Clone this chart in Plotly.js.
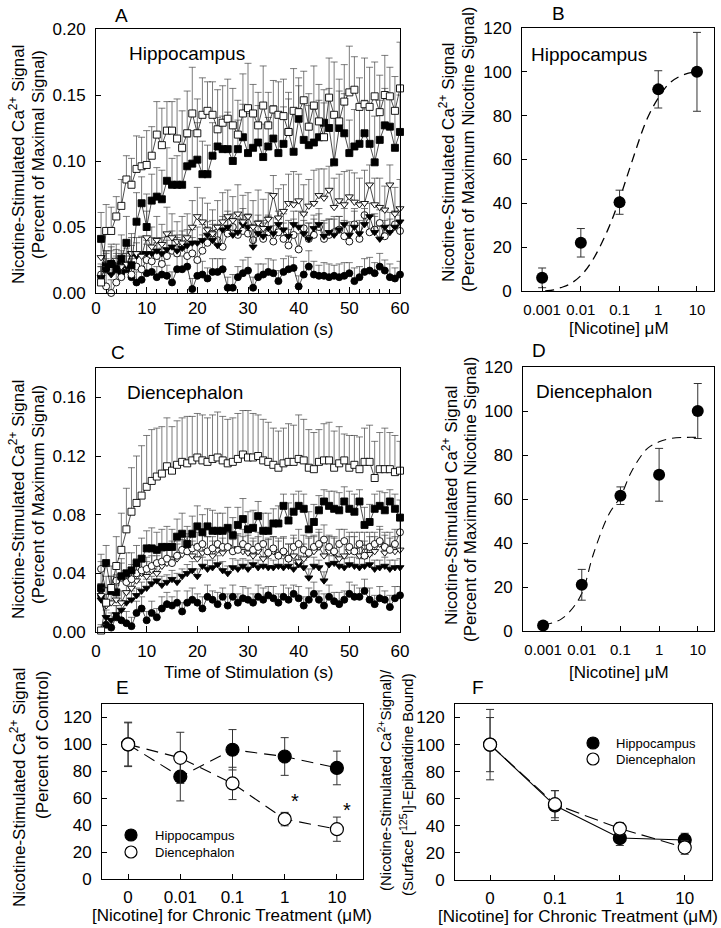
<!DOCTYPE html>
<html>
<head>
<meta charset="utf-8">
<script src="https://cdn.plot.ly/plotly-3.0.1.min.js"></script>
<style>
  html, body { margin: 0; padding: 0; background: #fff; }
  #chart { width: 721px; height: 928px; }
</style>
</head>
<body>
<div id="chart"></div>
<script>
// ---- time axis for panels A and C (s)
const time = [1,2,3,4,5,6,7,8,9,10,11,12,13,14,15,16,17,18,19,20,
  21,22,23,24,25,26,27,28,29,30,31,32,33,34,35,36,37,38,39,40,
  41,42,43,44,45,46,47,48,49,50,51,52,53,54,55,56,57,58,59,60];

// ---- panel A, hippocampus (fraction of maximal signal), upper SEM
const aSqOpen = [0.008,0.047,0.047,0.058,0.066,0.086,0.082,0.094,0.096,0.097,
  0.104,0.120,0.112,0.123,0.123,0.117,0.110,0.121,0.136,0.121,
  0.135,0.138,0.135,0.124,0.129,0.132,0.127,0.120,0.136,0.140,
  0.136,0.127,0.142,0.127,0.139,0.135,0.134,0.122,0.138,0.137,
  0.146,0.126,0.142,0.130,0.118,0.148,0.135,0.130,0.145,0.152,
  0.154,0.141,0.143,0.141,0.149,0.137,0.150,0.149,0.138,0.155];
const aSqOpenErr = [0.012,0.020,0.018,0.015,0.020,0.018,0.020,0.025,0.022,0.026,
  0.022,0.025,0.028,0.022,0.022,0.030,0.028,0.032,0.035,0.026,
  0.028,0.022,0.025,0.030,0.028,0.030,0.028,0.026,0.030,0.034,
  0.022,0.025,0.030,0.025,0.022,0.025,0.028,0.030,0.032,0.026,
  0.022,0.025,0.030,0.028,0.026,0.030,0.040,0.032,0.028,0.035,
  0.025,0.022,0.035,0.030,0.026,0.028,0.030,0.022,0.026,0.035];
const aSqFilled = [0.041,0.020,0.022,0.018,0.026,0.038,0.021,0.054,0.068,0.050,
  0.070,0.073,0.071,0.085,0.082,0.082,0.082,0.096,0.098,0.101,
  0.090,0.090,0.104,0.111,0.109,0.109,0.100,0.109,0.118,0.106,
  0.110,0.114,0.103,0.111,0.117,0.106,0.113,0.122,0.107,0.132,
  0.116,0.112,0.114,0.118,0.129,0.125,0.099,0.125,0.121,0.106,
  0.111,0.113,0.121,0.113,0.099,0.116,0.127,0.126,0.110,0.122];
const aSqFilledErr = [0.020,0.012,0.015,0.015,0.018,0.020,0.015,0.022,0.020,0.025,
  0.020,0.022,0.022,0.025,0.020,0.022,0.025,0.022,0.025,0.028,
  0.025,0.022,0.025,0.022,0.025,0.028,0.025,0.022,0.025,0.030,
  0.025,0.028,0.025,0.022,0.025,0.030,0.028,0.025,0.030,0.025,
  0.028,0.030,0.025,0.028,0.025,0.030,0.035,0.028,0.030,0.025,
  0.028,0.030,0.025,0.028,0.035,0.030,0.028,0.025,0.030,0.028];
const aTriOpen = [0.027,0.022,0.023,0.025,0.020,0.022,0.030,0.030,0.028,0.042,
  0.035,0.040,0.037,0.045,0.042,0.039,0.038,0.042,0.050,0.058,
  0.054,0.048,0.045,0.050,0.054,0.058,0.055,0.060,0.054,0.058,
  0.050,0.053,0.049,0.056,0.074,0.057,0.062,0.068,0.067,0.070,
  0.060,0.066,0.068,0.074,0.072,0.078,0.065,0.070,0.067,0.073,
  0.069,0.067,0.068,0.082,0.067,0.065,0.063,0.082,0.060,0.064];
const aTriOpenErr = [0.012,0.010,0.012,0.012,0.010,0.012,0.015,0.012,0.015,0.020,
  0.015,0.018,0.015,0.020,0.018,0.015,0.020,0.018,0.020,0.022,
  0.018,0.020,0.018,0.020,0.022,0.020,0.018,0.022,0.020,0.018,
  0.020,0.025,0.022,0.020,0.015,0.022,0.020,0.022,0.025,0.020,
  0.022,0.020,0.025,0.020,0.022,0.018,0.022,0.020,0.025,0.020,
  0.022,0.020,0.025,0.015,0.020,0.022,0.018,0.015,0.020,0.022];
const aTriFilled = [0.012,0.020,0.014,0.020,0.022,0.020,0.030,0.028,0.030,0.030,
  0.030,0.032,0.030,0.033,0.035,0.032,0.034,0.036,0.038,0.038,
  0.040,0.044,0.040,0.036,0.048,0.050,0.044,0.046,0.052,0.050,
  0.035,0.045,0.043,0.049,0.045,0.052,0.048,0.043,0.052,0.050,
  0.045,0.041,0.049,0.052,0.043,0.046,0.044,0.048,0.052,0.044,
  0.050,0.045,0.052,0.058,0.046,0.041,0.050,0.046,0.050,0.054];
const aTriFilledErr = [0.008,0.010,0.008,0.010,0.010,0.010,0.012,0.010,0.012,0.010,
  0.012,0.010,0.012,0.010,0.012,0.012,0.010,0.012,0.010,0.012,
  0.012,0.010,0.012,0.012,0.010,0.012,0.012,0.010,0.012,0.010,
  0.012,0.010,0.012,0.010,0.012,0.010,0.012,0.012,0.010,0.012,
  0.010,0.012,0.010,0.012,0.012,0.010,0.012,0.010,0.012,0.010,
  0.012,0.010,0.012,0.010,0.012,0.010,0.012,0.010,0.012,0.010];
const aCircOpen = [0.014,0.005,0.000,0.008,0.012,0.020,0.014,0.020,0.018,0.025,
  0.024,0.028,0.022,0.028,0.032,0.030,0.035,0.028,0.030,0.025,
  0.032,0.038,0.045,0.040,0.035,0.045,0.050,0.044,0.047,0.045,
  0.040,0.049,0.041,0.046,0.039,0.046,0.041,0.036,0.044,0.033,
  0.049,0.041,0.044,0.050,0.041,0.044,0.046,0.048,0.043,0.039,
  0.052,0.041,0.059,0.046,0.048,0.053,0.043,0.049,0.052,0.047];
const aCircOpenErr = [0.008,0.010,0.010,0.010,0.012,0.010,0.012,0.010,0.012,0.012,
  0.012,0.010,0.012,0.012,0.010,0.012,0.012,0.010,0.012,0.012,
  0.012,0.012,0.010,0.012,0.012,0.012,0.010,0.012,0.012,0.012,
  0.012,0.010,0.012,0.012,0.012,0.010,0.012,0.012,0.012,0.012,
  0.010,0.012,0.012,0.010,0.012,0.012,0.012,0.010,0.012,0.012,
  0.012,0.012,0.010,0.012,0.012,0.010,0.012,0.012,0.010,0.012];
const aCircFilled = [0.012,0.018,0.022,0.020,0.015,0.018,0.012,0.008,0.010,0.015,
  0.016,0.012,0.014,0.013,0.008,0.018,0.018,0.020,0.003,0.013,
  0.014,0.011,0.016,0.016,0.018,0.004,0.004,0.012,0.015,0.017,
  0.004,0.012,0.014,0.016,0.015,0.009,0.016,0.018,0.019,0.005,
  0.014,0.020,0.014,0.013,0.013,0.012,0.013,0.012,0.013,0.015,
  0.009,0.012,0.016,0.017,0.015,0.020,0.017,0.012,0.011,0.014];
const aCircFilledErr = [0.008,0.008,0.010,0.008,0.008,0.010,0.008,0.008,0.010,0.008,
  0.010,0.008,0.010,0.008,0.008,0.010,0.010,0.008,0.008,0.010,
  0.010,0.008,0.010,0.010,0.008,0.008,0.010,0.008,0.010,0.010,
  0.008,0.010,0.008,0.010,0.010,0.008,0.010,0.010,0.008,0.008,
  0.010,0.012,0.010,0.008,0.010,0.010,0.008,0.010,0.010,0.008,
  0.010,0.008,0.010,0.010,0.008,0.010,0.008,0.010,0.008,0.010];

// ---- panel C, diencephalon (fraction of maximum signal), upper SEM
const cSqOpen = [0.001,0.020,0.030,0.045,0.056,0.070,0.082,0.088,0.093,0.099,
  0.103,0.106,0.108,0.113,0.110,0.114,0.116,0.115,0.117,0.119,
  0.117,0.116,0.118,0.119,0.117,0.115,0.116,0.118,0.121,0.119,
  0.119,0.120,0.117,0.116,0.114,0.112,0.115,0.116,0.116,0.118,
  0.117,0.112,0.111,0.116,0.117,0.117,0.112,0.115,0.117,0.112,
  0.114,0.111,0.116,0.116,0.105,0.111,0.111,0.111,0.109,0.110];
const cSqOpenErr = [0.004,0.010,0.015,0.020,0.025,0.028,0.030,0.032,0.034,0.035,
  0.035,0.033,0.032,0.033,0.030,0.030,0.030,0.032,0.030,0.030,
  0.031,0.030,0.030,0.031,0.030,0.030,0.030,0.031,0.030,0.032,
  0.030,0.028,0.028,0.027,0.025,0.025,0.024,0.026,0.025,0.030,
  0.028,0.026,0.025,0.022,0.025,0.026,0.025,0.025,0.018,0.022,
  0.020,0.022,0.023,0.025,0.025,0.025,0.028,0.025,0.025,0.020];
const cSqFilled = [0.030,0.047,0.028,0.027,0.038,0.040,0.042,0.047,0.050,0.057,
  0.057,0.056,0.058,0.058,0.058,0.065,0.067,0.060,0.067,0.072,
  0.068,0.072,0.069,0.069,0.069,0.071,0.066,0.073,0.077,0.070,
  0.071,0.079,0.069,0.069,0.074,0.074,0.086,0.076,0.082,0.086,
  0.084,0.070,0.075,0.083,0.089,0.086,0.084,0.083,0.089,0.084,
  0.082,0.089,0.073,0.075,0.084,0.086,0.083,0.089,0.084,0.078];
const cSqFilledErr = [0.018,0.012,0.010,0.012,0.012,0.014,0.012,0.012,0.014,0.012,
  0.014,0.012,0.012,0.014,0.012,0.012,0.014,0.012,0.012,0.014,
  0.012,0.012,0.014,0.012,0.012,0.014,0.012,0.012,0.014,0.012,
  0.012,0.010,0.012,0.012,0.010,0.012,0.008,0.012,0.012,0.010,
  0.010,0.012,0.012,0.010,0.008,0.010,0.012,0.012,0.010,0.012,
  0.012,0.008,0.012,0.012,0.010,0.010,0.012,0.008,0.010,0.012];
const cCircOpen = [0.043,0.028,0.030,0.035,0.037,0.034,0.036,0.040,0.042,0.043,
  0.045,0.047,0.048,0.050,0.047,0.052,0.056,0.055,0.057,0.058,
  0.060,0.055,0.057,0.060,0.058,0.058,0.055,0.056,0.060,0.058,
  0.056,0.058,0.060,0.054,0.057,0.052,0.055,0.050,0.058,0.060,
  0.056,0.054,0.058,0.060,0.063,0.058,0.055,0.060,0.062,0.058,
  0.055,0.060,0.052,0.058,0.060,0.062,0.058,0.056,0.060,0.068];
const cCircOpenErr = [0.010,0.010,0.008,0.010,0.010,0.008,0.010,0.010,0.010,0.008,
  0.010,0.010,0.010,0.008,0.010,0.010,0.010,0.010,0.008,0.010,
  0.010,0.010,0.008,0.010,0.010,0.010,0.008,0.010,0.010,0.010,
  0.008,0.010,0.010,0.010,0.008,0.010,0.010,0.010,0.008,0.010,
  0.010,0.010,0.008,0.010,0.010,0.008,0.010,0.010,0.008,0.010,
  0.010,0.008,0.010,0.010,0.008,0.010,0.010,0.008,0.010,0.010];
const cTriOpen = [0.025,0.018,0.020,0.022,0.020,0.027,0.030,0.035,0.040,0.038,
  0.042,0.040,0.045,0.047,0.050,0.050,0.053,0.055,0.052,0.050,
  0.054,0.055,0.052,0.056,0.054,0.058,0.055,0.057,0.055,0.054,
  0.052,0.055,0.050,0.053,0.055,0.052,0.054,0.050,0.052,0.048,
  0.050,0.053,0.055,0.058,0.052,0.055,0.054,0.050,0.052,0.055,
  0.056,0.052,0.058,0.053,0.055,0.060,0.054,0.058,0.055,0.056];
const cTriOpenErr = [0.008,0.008,0.008,0.010,0.008,0.010,0.010,0.010,0.012,0.010,
  0.010,0.012,0.010,0.010,0.012,0.010,0.010,0.012,0.010,0.010,
  0.012,0.010,0.010,0.012,0.010,0.010,0.012,0.010,0.010,0.012,
  0.010,0.010,0.012,0.010,0.010,0.012,0.010,0.010,0.012,0.010,
  0.010,0.012,0.010,0.010,0.012,0.010,0.010,0.012,0.010,0.010,
  0.012,0.010,0.010,0.012,0.010,0.010,0.012,0.010,0.010,0.012];
const cTriFilled = [0.022,0.010,0.008,0.012,0.015,0.020,0.022,0.025,0.028,0.030,
  0.033,0.035,0.032,0.034,0.036,0.034,0.038,0.040,0.042,0.038,
  0.045,0.043,0.044,0.046,0.042,0.040,0.044,0.043,0.045,0.043,
  0.046,0.044,0.045,0.044,0.044,0.045,0.044,0.045,0.043,0.046,
  0.044,0.037,0.045,0.044,0.035,0.046,0.047,0.045,0.044,0.046,
  0.045,0.044,0.045,0.046,0.043,0.044,0.045,0.043,0.044,0.044];
const cTriFilledErr = [0.006,0.005,0.005,0.006,0.005,0.006,0.006,0.005,0.006,0.006,
  0.005,0.006,0.006,0.005,0.006,0.006,0.005,0.006,0.006,0.005,
  0.006,0.006,0.005,0.006,0.006,0.005,0.006,0.006,0.005,0.006,
  0.006,0.005,0.006,0.006,0.005,0.006,0.006,0.005,0.006,0.006,
  0.005,0.006,0.006,0.005,0.006,0.006,0.005,0.006,0.006,0.005,
  0.006,0.006,0.005,0.006,0.006,0.005,0.006,0.006,0.005,0.006];
const cCircFilled = [0.025,0.005,0.003,0.010,0.008,0.006,0.004,0.013,0.016,0.008,
  0.013,0.010,0.016,0.019,0.018,0.020,0.014,0.020,0.022,0.020,
  0.016,0.024,0.022,0.019,0.024,0.018,0.024,0.020,0.023,0.022,
  0.020,0.024,0.022,0.025,0.023,0.020,0.024,0.022,0.026,0.023,
  0.018,0.022,0.026,0.022,0.018,0.024,0.021,0.019,0.022,0.026,
  0.024,0.024,0.028,0.022,0.019,0.023,0.022,0.017,0.023,0.025];
const cCircFilledErr = [0.008,0.006,0.006,0.008,0.006,0.008,0.006,0.008,0.008,0.006,
  0.008,0.006,0.008,0.008,0.006,0.008,0.006,0.008,0.008,0.006,
  0.008,0.008,0.006,0.008,0.006,0.008,0.008,0.006,0.008,0.008,
  0.006,0.008,0.008,0.006,0.008,0.006,0.008,0.008,0.006,0.008,
  0.006,0.008,0.008,0.006,0.008,0.008,0.006,0.008,0.006,0.008,
  0.008,0.006,0.008,0.008,0.006,0.008,0.006,0.008,0.008,0.006];

// ---- panels B and D, concentration-response (% of maximum nicotine signal)
const conc = [0.001, 0.01, 0.1, 1, 10];
const concLabels = ['0.001', '0.01', '0.1', '1', '10'];
const bMean = [6, 22, 40.5, 92, 100];
const bErr = [4.5, 6.5, 5.5, 8.5, 18];
const bFitX = [0.0012, 0.002, 0.003, 0.005, 0.01, 0.02, 0.05, 0.1, 0.2, 0.5, 1, 2, 5, 10];
const bFitY = [0, 0.5, 1.5, 3, 7, 14, 28, 42, 58, 78, 88, 95, 99, 100];
const dMean = [2.5, 21, 61.5, 71, 100];
const dErr = [0.5, 7, 4, 12, 12.5];
const dFitX = [0.001, 0.002, 0.003, 0.005, 0.01, 0.02, 0.05, 0.1, 0.2, 0.5, 1, 2, 5, 10];
const dFitY = [2.5, 4, 5.5, 9, 17, 35, 53, 61, 73, 83, 86, 87.5, 88, 88];

// ---- panel E, chronic treatment (% of control)
const eConc = ['0', '0.01', '0.1', '1', '10'];
const eHippo = [100, 76, 96, 91, 82.5];
const eHippoErr = [16, 18, 15, 14, 12.5];
const eDien = [100, 90, 71, 44.5, 37];
const eDienErr = [16.5, 19, 12, 5, 9];

// ---- panel F, signal normalised to surface epibatidine binding
const fConc = ['0', '0.1', '1', '10'];
const fHippo = [100, 55, 31, 29.5];
const fHippoErr = [26, 11, 5.5, 5];
const fDien = [100, 56, 38, 24];
const fDienErr = [20, 10, 4.5, 5];

const FONT = 'Liberation Sans, Arial, sans-serif';
const W = 721, H = 928;
const xd = (a, b) => [a / W, b / W];
const yd = (top, bottom) => [1 - bottom / H, 1 - top / H];

function axis(extra) {
  return Object.assign({
    showline: true, mirror: true, linecolor: 'black', linewidth: 1,
    ticks: 'inside', ticklen: 5, tickcolor: 'black', tickwidth: 1, tickangle: 0,
    showgrid: false, zeroline: false, fixedrange: true,
    tickfont: { family: FONT, size: 17, color: 'black' }
  }, extra);
}

function series(y, err, symbol, open, xa, ya) {
  return {
    x: time, y: y, xaxis: xa, yaxis: ya,
    mode: 'lines+markers',
    line: { color: 'black', width: 0.7 },
    marker: { symbol: symbol, size: 7, color: open ? 'white' : 'black', line: { color: 'black', width: 0.9 } },
    error_y: { type: 'data', symmetric: false, array: err, arrayminus: err.map(() => 0),
      color: '#444', thickness: 0.7, width: 3.5 },
    cliponaxis: false, showlegend: false, hoverinfo: 'skip'
  };
}

function doseMarks(x, y, err, xa, ya) {
  return {
    x: x, y: y, xaxis: xa, yaxis: ya, mode: 'markers',
    marker: { symbol: 'circle', size: 12, color: 'black' },
    error_y: { type: 'data', array: err, color: '#333', thickness: 1, width: 4 },
    cliponaxis: false, showlegend: false, hoverinfo: 'skip'
  };
}

function groupTrace(x, y, err, open, dash, xa, ya) {
  return {
    x: x, y: y, xaxis: xa, yaxis: ya, mode: 'lines+markers',
    line: { color: 'black', width: 1.1, dash: dash },
    marker: { symbol: 'circle', size: 13, color: open ? 'white' : 'black', line: { color: 'black', width: 1.2 } },
    error_y: { type: 'data', array: err, color: '#333', thickness: 1, width: 4 },
    cliponaxis: false, showlegend: false, hoverinfo: 'skip'
  };
}

const data = [
  series(aCircFilled, aCircFilledErr, 'circle', false, 'x', 'y'),
  series(aCircOpen, aCircOpenErr, 'circle', true, 'x', 'y'),
  series(aTriFilled, aTriFilledErr, 'triangle-down', false, 'x', 'y'),
  series(aTriOpen, aTriOpenErr, 'triangle-down', true, 'x', 'y'),
  series(aSqFilled, aSqFilledErr, 'square', false, 'x', 'y'),
  series(aSqOpen, aSqOpenErr, 'square', true, 'x', 'y'),

  { x: bFitX, y: bFitY, xaxis: 'x2', yaxis: 'y2', mode: 'lines', line: { color: 'black', width: 1.3, dash: '9px,6px', shape: 'spline' }, showlegend: false, hoverinfo: 'skip' },
  doseMarks(conc, bMean, bErr, 'x2', 'y2'),

  series(cCircFilled, cCircFilledErr, 'circle', false, 'x3', 'y3'),
  series(cTriFilled, cTriFilledErr, 'triangle-down', false, 'x3', 'y3'),
  series(cTriOpen, cTriOpenErr, 'triangle-down', true, 'x3', 'y3'),
  series(cCircOpen, cCircOpenErr, 'circle', true, 'x3', 'y3'),
  series(cSqFilled, cSqFilledErr, 'square', false, 'x3', 'y3'),
  series(cSqOpen, cSqOpenErr, 'square', true, 'x3', 'y3'),

  { x: dFitX, y: dFitY, xaxis: 'x4', yaxis: 'y4', mode: 'lines', line: { color: 'black', width: 1.1, dash: '9px,6px', shape: 'spline' }, showlegend: false, hoverinfo: 'skip' },
  doseMarks(conc, dMean, dErr, 'x4', 'y4'),

  groupTrace(eConc, eHippo, eHippoErr, false, '12px,7px', 'x5', 'y5'),
  groupTrace(eConc, eDien, eDienErr, true, '12px,7px', 'x5', 'y5'),

  groupTrace(fConc, fHippo, fHippoErr, false, 'solid', 'x6', 'y6'),
  groupTrace(fConc, fDien, fDienErr, true, '14px,6px', 'x6', 'y6')
];

function txt(text, x, y, size, extra) {
  return Object.assign({
    text: text, xref: 'paper', yref: 'paper', x: x / W, y: 1 - y / H,
    xanchor: 'center', yanchor: 'middle', showarrow: false,
    font: { family: FONT, size: size, color: 'black' }
  }, extra || {});
}
const rot = { textangle: -90 };
const left = { xanchor: 'left' };
const ca = 'Ca<sup>2+</sup>';

// legend glyphs for panels E and F
function dot(cx, cy, open) {
  const r = 6;
  return { type: 'circle', xref: 'paper', yref: 'paper',
    x0: (cx - r) / W, x1: (cx + r) / W, y0: 1 - (cy + r) / H, y1: 1 - (cy - r) / H,
    fillcolor: open ? 'white' : 'black', line: { color: 'black', width: 1.2 } };
}
const shapes = [dot(131, 835, false), dot(131, 852, true), dot(593, 743, false), dot(593, 759, true)];

const annotations = [
  // panel letters
  txt('A', 121, 15, 19), txt('B', 558, 14, 19), txt('C', 118, 352, 19),
  txt('D', 539, 350, 19), txt('E', 122, 687, 19), txt('F', 478, 687, 19),
  // labels inside plots
  txt('Hippocampus', 187, 53, 19), txt('Hippocampus', 589, 54, 19),
  txt('Diencephalon', 185, 392, 19), txt('Diencephalon', 594, 391, 19),
  // legends of E and F
  txt('Hippocampus', 153, 835, 13, left), txt('Diencephalon', 153, 852, 13, left),
  txt('Hippocampus', 614, 743, 13, left), txt('Diencephalon', 614, 759, 13, left),
  // x titles
  txt('Time of Stimulation (s)', 248, 329, 17), txt('Time of Stimulation (s)', 248, 672, 17),
  txt('[Nicotine] \u03bcM', 619, 328, 17), txt('[Nicotine] \u03bcM', 619, 672, 17),
  txt('[Nicotine] for Chronic Treatment (\u03bcM)', 232, 915, 17),
  txt('[Nicotine] for Chronic Treatment (\u03bcM)', 578, 916, 17),
  // y titles
  txt('Nicotine-Stimulated ' + ca + ' Signal', 17, 165, 17, rot),
  txt('(Percent of Maximal Signal)', 38, 155, 17, rot),
  txt('Nicotine-Stimulated ' + ca + ' Signal', 447, 162, 17, rot),
  txt('(Percent of Maximum Nicotine Signal)', 468, 150, 17, rot),
  txt('Nicotine-Stimulated ' + ca + ' Signal', 17, 500, 17, rot),
  txt('(Percent of Maximum Signal)', 38, 495, 17, rot),
  txt('Nicotine-Stimulated ' + ca + ' Signal', 450, 505, 17, rot),
  txt('(Percent of Maximum Nicotine Signal)', 470, 500, 17, rot),
  txt('Nicotine-Stimulated ' + ca + ' Signal', 18, 788, 17, rot),
  txt('(Percent of Control)', 42, 745, 17, rot),
  txt('(Nicotine-Stimulated ' + ca + 'Signal)/', 384, 780, 15, rot),
  txt('(Surface [<sup>125</sup>I]-Epibatidine Bound)', 406, 785, 15, rot),
  // significance marks
  { text: '*', xref: 'x5', yref: 'y5', x: 3.2, y: 58, showarrow: false, font: { family: FONT, size: 20, color: 'black' } },
  { text: '*', xref: 'x5', yref: 'y5', x: 4.2, y: 51, showarrow: false, font: { family: FONT, size: 20, color: 'black' } }
];

const logTickFont = { family: FONT, size: 15, color: 'black' };

const layout = {
  width: W, height: H,
  margin: { l: 0, r: 0, t: 0, b: 0 },
  paper_bgcolor: 'white', plot_bgcolor: 'white',
  font: { family: FONT, color: 'black' },
  showlegend: false,
  xaxis: axis({ domain: xd(96, 400), anchor: 'y', range: [0, 60], dtick: 10, ticklen: 6,
    minor: { dtick: 2, ticks: 'inside', ticklen: 4, tickcolor: 'black', showgrid: false }, ticklabelstandoff: 0 }),
  yaxis: axis({ domain: yd(29, 293), anchor: 'x', range: [0, 0.2], dtick: 0.05, tickformat: '.2f', ticklabelstandoff: 6 }),
  xaxis2: axis({ domain: xd(522, 714), anchor: 'y2', type: 'log', range: [-3.52, 1.44],
    tickvals: conc, ticktext: concLabels, tickfont: logTickFont, ticklabelstandoff: 5 }),
  yaxis2: axis({ domain: yd(28, 291), anchor: 'x2', range: [0, 120], dtick: 20, ticklabelstandoff: 6 }),
  xaxis3: axis({ domain: xd(96, 400), anchor: 'y3', range: [0, 60], dtick: 10, ticklen: 6, ticklabelstandoff: 4 }),
  yaxis3: axis({ domain: yd(368, 632), anchor: 'x3', range: [0, 0.18], tickvals: [0, 0.04, 0.08, 0.12, 0.16], tickformat: '.2f', ticklabelstandoff: 6 }),
  xaxis4: axis({ domain: xd(523, 714), anchor: 'y4', type: 'log', range: [-3.52, 1.42],
    tickvals: conc, ticktext: concLabels, tickfont: logTickFont, ticklabelstandoff: 5 }),
  yaxis4: axis({ domain: yd(367, 631), anchor: 'x4', range: [0, 120], dtick: 20, ticklabelstandoff: 6 }),
  xaxis5: axis({ domain: xd(102, 363), anchor: 'y5', type: 'category', categoryarray: eConc, range: [-0.5, 4.5], ticklabelstandoff: 3 }),
  yaxis5: axis({ domain: yd(704, 879), anchor: 'x5', range: [0, 130], tickvals: [0, 20, 40, 60, 80, 100, 120], ticklabelstandoff: 6 }),
  xaxis6: axis({ domain: xd(455, 712), anchor: 'y6', type: 'category', categoryarray: fConc, range: [-0.54, 3.42], ticklabelstandoff: 3 }),
  yaxis6: axis({ domain: yd(704, 880), anchor: 'x6', range: [0, 130], tickvals: [0, 20, 40, 60, 80, 100, 120], ticklabelstandoff: 6 }),
  shapes: shapes,
  annotations: annotations
};

Plotly.newPlot('chart', data, layout, { displayModeBar: false, staticPlot: true });
</script>
</body>
</html>
